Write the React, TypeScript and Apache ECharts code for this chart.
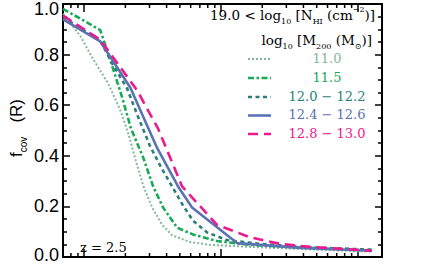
import React, { useEffect, useRef } from 'react';
import * as echarts from 'echarts';

// Mass bins (legend labels) and colours
const massBins = ['11.0', '11.5', '12.0 − 12.2', '12.4 − 12.6', '12.8 − 13.0'];
const binColors = ['#86b898', '#19aa56', '#2b7f78', '#5a73b3', '#ec1a8c'];

// Covering fraction curves: R values and f_cov values
const r110 = [7.0, 9.35, 11.6, 15.0, 18.3, 21.0, 24.0, 27.4, 31.4, 37.1, 43.9, 59.4, 83.1, 162.8, 446, 1265];
const f110 = [0.962, 0.874, 0.783, 0.685, 0.582, 0.488, 0.374, 0.272, 0.196, 0.127, 0.086, 0.059, 0.048, 0.040, 0.030, 0.021];

const r115 = [7.0, 13.1, 15.5, 18.9, 22.0, 27.0, 31.9, 37.7, 47.7, 62.5, 93.5, 162.8, 446, 1265];
const f115 = [0.981, 0.897, 0.779, 0.632, 0.507, 0.393, 0.279, 0.196, 0.116, 0.089, 0.063, 0.048, 0.036, 0.025];

const r120 = [7.0, 13.1, 16.0, 20.6, 24.8, 30.3, 37.1, 44.6, 52.8, 62.5, 79.1, 110.6, 192.6, 446, 1265];
const f120 = [0.947, 0.856, 0.765, 0.666, 0.553, 0.438, 0.347, 0.272, 0.203, 0.143, 0.097, 0.067, 0.052, 0.038, 0.029];

const r124 = [7.0, 13.1, 21.7, 34.1, 48.5, 61.4, 130.9, 377, 1265];
const f124 = [0.939, 0.852, 0.670, 0.431, 0.279, 0.196, 0.055, 0.036, 0.025];

const r128 = [7.0, 13.1, 24.4, 34.7, 39.7, 51.9, 93.5, 162.8, 269.6, 446, 1265];
const f128 = [0.954, 0.859, 0.658, 0.507, 0.431, 0.279, 0.127, 0.078, 0.052, 0.040, 0.025];

// Axis ranges and ticks
const xMin = 7;
const xMax = 1500;
const xMinorTicks = [8, 9, 20, 30, 40, 50, 60, 70, 80, 90, 200, 300, 400, 500, 600, 700, 800, 900];
const yMin = 0;
const yMax = 1;
const yStep = 0.2;

const seriesR = [r110, r115, r120, r124, r128];
const seriesF = [f110, f115, f120, f124, f128];

const lineDashes: (number[] | 'solid')[] = [[2, 2], [6, 2.5, 2.5, 2.5], [4, 3.5], 'solid', [10, 6]];
const lineWidths = [2, 2.6, 2.6, 2.6, 2.6];

const serif = 'DejaVu Serif';
const sans = 'Liberation Sans';

export default function App() {
  const ref = useRef<HTMLDivElement>(null);

  useEffect(() => {
    if (!ref.current) return;
    const chart = echarts.init(ref.current, null, { renderer: 'svg' });

    const xBase = {
      type: 'log',
      logBase: 10,
      min: xMin,
      max: xMax,
      splitLine: { show: false },
      axisLabel: { show: false },
      minorTick: { show: false },
      axisLine: { show: true, onZero: false, lineStyle: { color: '#000', width: 2 } },
      axisTick: { show: true, inside: true, length: 8, lineStyle: { color: '#000', width: 1.5 } },
    };

    const yBase = {
      type: 'value',
      min: yMin,
      max: yMax,
      interval: yStep,
      splitLine: { show: false },
      axisLine: { show: true, onZero: false, lineStyle: { color: '#000', width: 2 } },
      axisTick: { show: true, inside: true, length: 7, lineStyle: { color: '#000', width: 1.5 } },
      minorTick: { show: true, splitNumber: 4, length: 4, lineStyle: { color: '#000', width: 1.5 } },
    };

    const series: any[] = seriesR.map((rs, i) => ({
      type: 'line',
      name: massBins[i],
      data: rs.map((r, j) => [r, seriesF[i][j]]),
      showSymbol: false,
      symbol: 'none',
      xAxisIndex: 0,
      yAxisIndex: 0,
      lineStyle: {
        color: binColors[i],
        width: lineWidths[i],
        type: lineDashes[i],
        cap: 'butt',
      },
      z: 2 + i,
    }));

    // minor x ticks (log decades) drawn through the axis scale
    series.push({
      type: 'custom',
      xAxisIndex: 0,
      yAxisIndex: 0,
      silent: true,
      clip: false,
      z: 20,
      data: xMinorTicks.map((v) => [v, yMin]),
      renderItem: (_params: any, api: any) => {
        const pb = api.coord([api.value(0), yMin]);
        const pt = api.coord([api.value(0), yMax]);
        return {
          type: 'group',
          children: [
            { type: 'line', shape: { x1: pb[0], y1: pb[1], x2: pb[0], y2: pb[1] - 4 }, style: { stroke: '#000', lineWidth: 1.5 } },
            { type: 'line', shape: { x1: pt[0], y1: pt[1], x2: pt[0], y2: pt[1] + 4 }, style: { stroke: '#000', lineWidth: 1.5 } },
          ],
        };
      },
    });

    const legendY = [59, 78, 97, 115.5, 134];
    const legendGraphics: any[] = [];
    massBins.forEach((label, i) => {
      legendGraphics.push({
        type: 'line',
        shape: { x1: 248, y1: legendY[i], x2: 271, y2: legendY[i] },
        style: {
          stroke: binColors[i],
          lineWidth: lineWidths[i],
          lineDash: lineDashes[i] === 'solid' ? null : lineDashes[i],
        },
      });
      legendGraphics.push({
        type: 'text',
        x: 327,
        y: legendY[i] - 1,
        style: {
          text: label,
          fill: binColors[i],
          fontSize: 13,
          fontFamily: serif,
          align: 'center',
          verticalAlign: 'middle',
        },
      });
    });

    const subStyle = { fontSize: 8, fontFamily: serif, fill: '#000', verticalAlign: 'bottom', lineHeight: 9 };
    const supStyle = { fontSize: 8, fontFamily: serif, fill: '#000', verticalAlign: 'top', lineHeight: 9 };

    const option: any = {
      animation: false,
      backgroundColor: '#fff',
      grid: { left: 63, right: 42, top: 1, bottom: 1, containLabel: false },
      xAxis: [
        { ...xBase, position: 'bottom' },
        { ...xBase, position: 'top' },
      ],
      yAxis: [
        {
          ...yBase,
          position: 'left',
          axisLabel: {
            show: true,
            margin: 4,
            color: '#000',
            fontSize: 18,
            fontFamily: sans,
            formatter: (v: number) => {
              const s = v.toFixed(1);
              if (v >= yMax - 1e-9) return '{t|' + s + '}';
              if (v <= yMin + 1e-9) return '{b|' + s + '}';
              return s;
            },
            rich: {
              t: { fontSize: 18, fontFamily: sans, color: '#000', padding: [10, 0, 0, 0] },
              b: { fontSize: 18, fontFamily: sans, color: '#000', padding: [0, 0, 4, 0] },
            },
          },
        },
        { ...yBase, position: 'right', axisLabel: { show: false } },
      ],
      series,
      graphic: [
        {
          type: 'text',
          x: 375,
          y: 15,
          style: {
            text: '19.0 < log{s|10} [N{s|HI} (cm{p|−2})]',
            fontSize: 13.5,
            fontFamily: serif,
            fill: '#000',
            align: 'right',
            verticalAlign: 'middle',
            lineHeight: 20,
            rich: { s: subStyle, p: supStyle },
          },
        },
        {
          type: 'text',
          x: 372,
          y: 40,
          style: {
            text: 'log{s|10} [M{s|200} (M{s|⊙})]',
            fontSize: 13.5,
            fontFamily: serif,
            fill: '#000',
            align: 'right',
            verticalAlign: 'middle',
            lineHeight: 20,
            rich: { s: subStyle },
          },
        },
        ...legendGraphics,
        {
          type: 'text',
          x: 80,
          y: 247,
          style: {
            text: 'z = 2.5',
            fontSize: 13,
            fontFamily: serif,
            fill: '#000',
            align: 'left',
            verticalAlign: 'middle',
          },
        },
        {
          type: 'text',
          x: 16,
          y: 128,
          rotation: Math.PI / 2,
          style: {
            text: '{m|f}{s|cov}{m|   (R)}',
            align: 'center',
            verticalAlign: 'middle',
            fill: '#000',
            rich: {
              m: { fontSize: 17, fontFamily: sans, fill: '#000', lineHeight: 24, verticalAlign: 'middle' },
              s: { fontSize: 10, fontFamily: sans, fill: '#000', lineHeight: 11, verticalAlign: 'bottom' },
            },
          },
        },
      ],
    };

    chart.setOption(option);
    return () => chart.dispose();
  }, []);

  return (
    <div
      ref={ref}
      style={{ position: 'fixed', left: 0, top: 0, width: 424, height: 264, background: '#fff' }}
    />
  );
}
